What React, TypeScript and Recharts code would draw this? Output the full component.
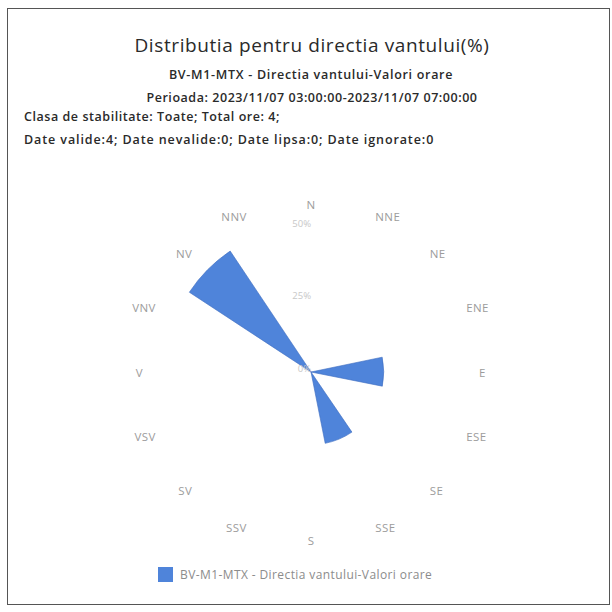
import { RadialBarChart, RadialBar, PolarAngleAxis, PolarRadiusAxis } from "recharts";

const directions = ["N", "NNE", "NE", "ENE", "E", "ESE", "SE", "SSE", "S", "SSV", "SV", "VSV", "V", "VNV", "NV", "NNV"];
const frequency = [0, 0, 0, 0, 25, 0, 0, 25, 0, 0, 0, 0, 0, 0, 50, 0];
const radiusTicks = [0, 25, 50];

const seriesName = "BV-M1-MTX - Directia vantului-Valori orare";

const data = directions.map((dir, i) => ({ dir, value: frequency[i] }));

const C = {
  ink: "#2a2a2a",
  label: "#9c9c9c",
  faint: "#c8c8c8",
  blue: "#4f84da",
  frame: "#555",
};

const FONT = "'Open Sans', 'Noto Sans', sans-serif";
const CX = 311;
const CY = 372;
const OUTER = 160;
// bars in centric layout start at the band edge, so the axis is turned half a band
const HALF_BAND = 360 / directions.length / 2;

const RAD = Math.PI / 180;

// ticks sit at band start; move each label to the band centre
const DirTick = (props: any) => {
  const { payload } = props;
  const cx = props.cx ?? CX;
  const cy = props.cy ?? CY;
  const r = (props.radius ?? OUTER) + 8;
  const a = (payload.coordinate + HALF_BAND) * RAD;
  const cos = Math.cos(a);
  const x = cx + r * cos;
  const y = cy - r * Math.sin(a);
  const anchor = cos > 0.01 ? "start" : cos < -0.01 ? "end" : "middle";
  return (
    <text x={x} y={y} textAnchor={anchor} dominantBaseline="central" fill={C.label} fontSize={11.5} letterSpacing={0.4} fontFamily={FONT}>
      {payload.value}
    </text>
  );
};

export default function App() {
  return (
    <div style={{ position: "absolute", left: 0, top: 0, width: 612, height: 612, background: "#fff", fontFamily: FONT }}>
      {/* frame */}
      <div style={{ position: "absolute", left: 7, top: 8, width: 603, height: 597, border: `1.5px solid ${C.frame}`, boxSizing: "border-box" }} />

      <div style={{ position: "absolute", left: 0, top: 32, width: 624, textAlign: "center", fontSize: 19, fontWeight: 500, letterSpacing: 0.6, color: C.ink }}>
        Distributia pentru directia vantului(%)
      </div>
      <div style={{ position: "absolute", left: 0, top: 66, width: 622, textAlign: "center", fontSize: 12.5, fontWeight: 600, letterSpacing: 0.7, color: C.ink }}>
        {seriesName}
      </div>
      <div style={{ position: "absolute", left: 0, top: 89, width: 624, textAlign: "center", fontSize: 12.5, fontWeight: 600, letterSpacing: 0.55, color: C.ink }}>
        Perioada: 2023/11/07 03:00:00-2023/11/07 07:00:00
      </div>
      <div style={{ position: "absolute", left: 24, top: 108, fontSize: 12.5, fontWeight: 600, letterSpacing: 0.55, color: C.ink }}>
        Clasa de stabilitate: Toate; Total ore: 4;
      </div>
      <div style={{ position: "absolute", left: 24, top: 131, fontSize: 12.5, fontWeight: 600, letterSpacing: 0.9, color: C.ink }}>
        Date valide:4; Date nevalide:0; Date lipsa:0; Date ignorate:0
      </div>

      <div style={{ position: "absolute", left: 0, top: 0 }}>
        <RadialBarChart
          width={612}
          height={612}
          data={data}
          cx={CX}
          cy={CY}
          innerRadius={0}
          outerRadius={OUTER}
          startAngle={90 - HALF_BAND}
          endAngle={90 - HALF_BAND - 360}
          layout="centric"
          barCategoryGap={0}
          barGap={0}
        >
          <PolarAngleAxis type="category" dataKey="dir" tick={<DirTick />} tickLine={false} axisLine={false} />
          <PolarRadiusAxis
            type="number"
            domain={[0, 55]}
            ticks={radiusTicks}
            angle={90}
            orientation="left"
            axisLine={false}
            tickLine={false}
            tickFormatter={(v) => `${v}%`}
            tick={{ fill: C.faint, fontSize: 9.5, fontFamily: FONT }}
          />
          <RadialBar dataKey="value" name={seriesName} fill={C.blue} stroke="#3d6cbf" strokeWidth={0.6} isAnimationActive={false} />
        </RadialBarChart>
      </div>

      {/* legend */}
      <div style={{ position: "absolute", left: 158, top: 566, display: "flex", alignItems: "center", gap: 7, fontSize: 12, letterSpacing: 0.4, color: "#8c8c8c" }}>
        <span style={{ width: 15, height: 15, background: C.blue, display: "inline-block" }} />
        <span>{seriesName}</span>
      </div>
    </div>
  );
}
